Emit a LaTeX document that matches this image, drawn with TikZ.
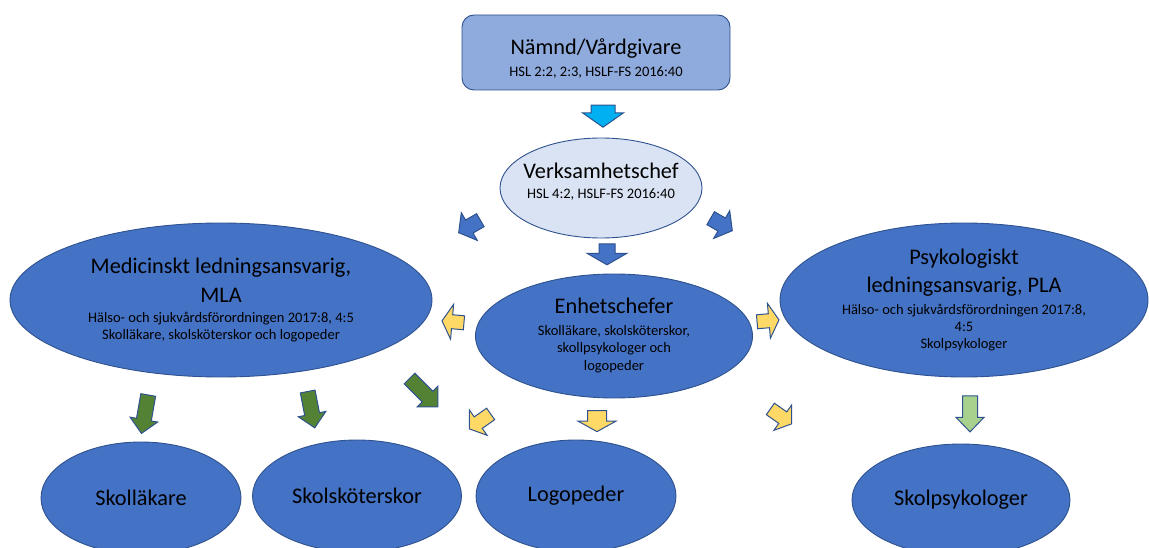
\documentclass[tikz,border=0pt]{standalone}
\usepackage{fontspec}
\setmainfont{Carlito}
\usetikzlibrary{shapes.geometric,shapes.arrows}
\definecolor{mainblue}{HTML}{4472C4}
\definecolor{edgeblue}{HTML}{2F528F}
\definecolor{topfill}{HTML}{8FAADC}
\definecolor{vcfill}{HTML}{DAE3F3}
\definecolor{cyanarrow}{HTML}{00B0F0}
\definecolor{yellowarrow}{HTML}{FFD966}
\definecolor{greenarrow}{HTML}{548235}
\definecolor{lightgreenarrow}{HTML}{A9D18E}
\newcommand{\fL}{\fontsize{22.3}{25}\selectfont}
\newcommand{\fS}{\fontsize{14.5}{17}\selectfont}
\tikzset{
  oval/.style={ellipse, draw=edgeblue, fill=mainblue, line width=0.9pt, inner sep=0pt, align=center, text=black, font=\fS},
  topbox/.style={rectangle, rounded corners=12pt, draw=edgeblue, fill=topfill, line width=0.9pt, inner sep=0pt, align=center, font=\fS},
  blockarrow/.style={single arrow, draw=edgeblue, line width=1pt, inner xsep=0pt},
}
\begin{document}
\begin{tikzpicture}[x=1pt,y=-1pt]
\useasboundingbox (0,0) rectangle (1149,548);

% top box
\node[topbox, minimum width=268pt, minimum height=75pt] (nv) at (596,52.5)
  {{\fL\rule{0pt}{27pt}Nämnd/Vårdgivare}\\[5pt]HSL 2:2, 2:3, HSLF-FS 2016:40};

% Verksamhetschef
\node[oval, fill=vcfill, inner xsep=-12pt, minimum width=202pt, minimum height=100pt] (vc) at (601,188)
  {{\fL Verksamhetschef}\\[3pt]HSL 4:2, HSLF-FS 2016:40\rule[-14pt]{0pt}{14pt}};

% MLA
\node[oval, minimum width=422pt, minimum height=154pt] (mla) at (221,300)
  {{\fL Medicinskt ledningsansvarig,}\\[9pt]{\fL MLA}\\[3pt]Hälso- och sjukvårdsförordningen 2017:8, 4:5\\Skolläkare, skolsköterskor och logopeder};

% Enhetschefer
\node[oval, minimum width=277pt, minimum height=124pt] (ec) at (614,336)
  {{\fL Enhetschefer}\\[5pt]Skolläkare, skolsköterskor,\\skollpsykologer och\\[1pt]logopeder};

% PLA
\node[oval, minimum width=368pt, minimum height=154pt] (pla) at (964,300)
  {{\fL Psykologiskt}\\[8pt]{\fL ledningsansvarig, PLA}\\[5pt]Hälso- och sjukvårdsförordningen 2017:8,\\4:5\\Skolpsykologer};

% bottom ovals
\node[oval, font=\fL, minimum width=200pt, minimum height=112pt] (sl) at (141,498) {Skolläkare};
\node[oval, font=\fL, minimum width=209pt, minimum height=112pt] (ss) at (357,496) {Skolsköterskor};
\node[oval, font=\fL, minimum width=200pt, minimum height=112pt] (lg) at (576,496) {Logopeder};
\node[oval, font=\fL, minimum width=218pt, minimum height=112pt] (sp) at (961,500) {Skolpsykologer};

% arrows from Nämnd and Verksamhetschef
\node[blockarrow, fill=cyanarrow, rotate=-90, minimum height=22pt, inner ysep=11.5pt, single arrow head extend=8.5pt, single arrow tip angle=110] (a1) at (603,112) {};
\node[blockarrow, fill=mainblue, rotate=-90, minimum height=21pt, inner ysep=7.5pt, single arrow head extend=12pt, single arrow tip angle=120] (a2) at (607,252) {};
\node[blockarrow, fill=mainblue, rotate=210, minimum height=25pt, inner ysep=7pt, single arrow head extend=8.5pt, single arrow tip angle=105] (a3) at (472,225) {};
\node[blockarrow, fill=mainblue, rotate=-30, minimum height=25pt, inner ysep=7pt, single arrow head extend=8.5pt, single arrow tip angle=105] (a4) at (719,223) {};

% arrows from Enhetschefer
\node[blockarrow, fill=yellowarrow, rotate=175, minimum height=22pt, inner ysep=6.5pt, single arrow head extend=10.5pt, single arrow tip angle=120] (y1) at (455,322) {};
\node[blockarrow, fill=yellowarrow, rotate=5, minimum height=22pt, inner ysep=6.5pt, single arrow head extend=10.5pt, single arrow tip angle=120] (y2) at (766,321) {};
\node[blockarrow, fill=yellowarrow, rotate=215, minimum height=26pt, inner ysep=6.5pt, single arrow head extend=8.5pt, single arrow tip angle=110] (y3) at (482,420) {};
\node[blockarrow, fill=yellowarrow, rotate=-90, minimum height=21pt, inner ysep=9pt, single arrow head extend=9.5pt, single arrow tip angle=122] (y4) at (597,418.5) {};
\node[blockarrow, fill=yellowarrow, rotate=-35, minimum height=26pt, inner ysep=6.5pt, single arrow head extend=8.5pt, single arrow tip angle=110] (y5) at (779,415) {};

% arrows from MLA and PLA
\node[blockarrow, fill=greenarrow, rotate=-100, minimum height=39pt, inner ysep=7pt, single arrow head extend=6.5pt, single arrow tip angle=90] (g1) at (145.5,410.5) {};
\node[blockarrow, fill=greenarrow, rotate=-79, minimum height=37pt, inner ysep=7pt, single arrow head extend=6.5pt, single arrow tip angle=90] (g2) at (310.5,406) {};
\node[blockarrow, fill=greenarrow, rotate=-45, minimum height=40pt, inner ysep=7pt, single arrow head extend=7pt, single arrow tip angle=90] (g3) at (421,390) {};
\node[blockarrow, fill=lightgreenarrow, rotate=-90, minimum height=36pt, inner ysep=7pt, single arrow head extend=6.5pt, single arrow tip angle=88] (g4) at (970,410) {};
\end{tikzpicture}
\end{document}
